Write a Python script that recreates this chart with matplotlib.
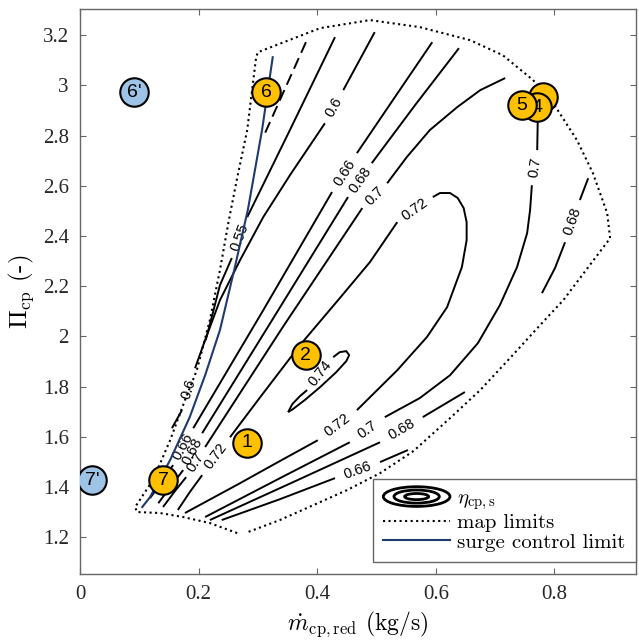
import math
import matplotlib
matplotlib.use("Agg")
import matplotlib.pyplot as plt
from matplotlib.legend_handler import HandlerBase
from matplotlib.patches import Ellipse
from matplotlib.lines import Line2D

plt.rcParams['mathtext.fontset'] = 'cm'

# ---------------- data ----------------
# map limits (dotted polygon, with a small gap at the bottom)
map_x = [0.265, 0.219, 0.174, 0.135, 0.096, 0.093, 0.123, 0.152, 0.177, 0.197,
         0.219, 0.236, 0.251, 0.266, 0.282, 0.297, 0.300, 0.405, 0.489, 0.573,
         0.658, 0.713, 0.764, 0.798, 0.838, 0.865, 0.889, 0.894, 0.815, 0.776,
         0.725, 0.675, 0.624, 0.568, 0.560, 0.506, 0.450, 0.337, 0.283]
map_y = [1.216, 1.256, 1.280, 1.296, 1.300, 1.320, 1.427, 1.586, 1.746, 1.865,
         2.065, 2.264, 2.463, 2.642, 2.822, 3.112, 3.132, 3.228, 3.260, 3.232,
         3.180, 3.120, 3.021, 2.929, 2.782, 2.650, 2.491, 2.391, 2.144, 2.045,
         1.913, 1.786, 1.674, 1.555, 1.539, 1.455, 1.387, 1.268, 1.220]

# surge control limit
surge_x = [0.325, 0.307, 0.283, 0.260, 0.236, 0.211, 0.185, 0.152, 0.118, 0.105]
surge_y = [3.112, 2.822, 2.503, 2.264, 2.025, 1.845, 1.678, 1.507, 1.359, 1.320]

# dashed fragment near the surge line (top)
frag_x = [0.381, 0.309]
frag_y = [3.172, 2.794]

# efficiency iso-lines: each level -> branches -> pieces (gaps = labels)
eta_055 = [[[(0.430, 3.192), (0.354, 2.822), (0.282, 2.475)],
            [(0.256, 2.312), (0.236, 2.204), (0.223, 2.084), (0.212, 1.985)]]]
eta_060 = [[[(0.497, 3.212), (0.444, 2.981)],
            [(0.413, 2.849), (0.354, 2.642), (0.309, 2.475), (0.270, 2.304),
             (0.236, 2.144), (0.211, 1.985), (0.194, 1.873)],
            [(0.172, 1.706), (0.155, 1.634)]]]
eta_066 = [[[(0.118, 1.355), (0.135, 1.411), (0.157, 1.487)],
            [(0.191, 1.634), (0.309, 2.104), (0.425, 2.575)],
            [(0.467, 2.730), (0.531, 2.953), (0.594, 3.172)]],
           [[(0.553, 1.547), (0.506, 1.499)],
            [(0.430, 1.435), (0.337, 1.351), (0.239, 1.268)]]]
eta_068 = [[[(0.132, 1.335), (0.152, 1.399), (0.174, 1.467)],
            [(0.206, 1.614), (0.329, 2.084), (0.452, 2.555)],
            [(0.492, 2.690), (0.565, 2.921), (0.639, 3.148)]],
           [[(0.857, 2.630), (0.843, 2.543)],
            [(0.818, 2.375), (0.801, 2.272), (0.779, 2.172)]],
           [[(0.649, 1.778), (0.578, 1.678)],
            [(0.506, 1.578), (0.363, 1.423), (0.219, 1.268)]]]
eta_070 = [[[(0.140, 1.320), (0.160, 1.383), (0.179, 1.439)],
            [(0.211, 1.559), (0.342, 2.037), (0.476, 2.511)],
            [(0.518, 2.610), (0.551, 2.714), (0.590, 2.822), (0.636, 2.913),
             (0.675, 2.981), (0.717, 3.029)]],
           [[(0.772, 2.869), (0.771, 2.742)],
            [(0.762, 2.602), (0.759, 2.503), (0.754, 2.411), (0.737, 2.276),
             (0.708, 2.124), (0.671, 1.973), (0.624, 1.845), (0.573, 1.754),
             (0.514, 1.678)],
            [(0.455, 1.578), (0.334, 1.431), (0.211, 1.280)]]]
eta_072 = [[[(0.165, 1.308), (0.185, 1.379), (0.206, 1.447)],
            [(0.253, 1.598), (0.304, 1.758), (0.371, 1.965), (0.438, 2.152),
             (0.489, 2.296), (0.535, 2.455)],
            [(0.595, 2.555), (0.607, 2.571), (0.624, 2.571), (0.637, 2.551),
             (0.647, 2.511), (0.652, 2.455), (0.652, 2.383), (0.644, 2.276),
             (0.619, 2.116), (0.585, 1.997), (0.535, 1.865), (0.467, 1.706)],
            [(0.401, 1.586), (0.337, 1.503), (0.270, 1.415), (0.177, 1.296)]]]
eta_074 = [[[(0.351, 1.698), (0.358, 1.730), (0.371, 1.762), (0.383, 1.786)],
            [(0.427, 1.917), (0.438, 1.937), (0.449, 1.941), (0.454, 1.925),
             (0.449, 1.901), (0.432, 1.857), (0.405, 1.798), (0.379, 1.746),
             (0.359, 1.710), (0.351, 1.698)]]]

eta_levels = ['0.55', '0.6', '0.66', '0.68', '0.7', '0.72', '0.74']
eta_lines = [eta_055, eta_060, eta_066, eta_068, eta_070, eta_072, eta_074]

# operating points (the rearmost circle near 4/5 shows no number)
pt_labels = ["6'", "6", "7'", "7", "1", "2", "", "4", "5"]
pt_x = [0.091, 0.314, 0.020, 0.140, 0.282, 0.381, 0.781, 0.771, 0.745]
pt_y = [2.973, 2.973, 1.427, 1.427, 1.575, 1.925, 2.953, 2.913, 2.921]
pt_kind = ['off', 'on', 'off', 'on', 'on', 'on', 'on', 'on', 'on']

x_ticks = [0, 0.2, 0.4, 0.6, 0.8]
x_ticklabels = ['0', '0.2', '0.4', '0.6', '0.8']
y_ticks = [1.2, 1.4, 1.6, 1.8, 2.0, 2.2, 2.4, 2.6, 2.8, 3.0, 3.2]
y_ticklabels = ['1.2', '1.4', '1.6', '1.8', '2', '2.2', '2.4', '2.6', '2.8', '3', '3.2']

# ---------------- styles ----------------
ORANGE = '#FFC000'
LIGHTBLUE = '#9DC3E6'
NAVY = '#1F3A6E'
GRAY = '#666666'

fig = plt.figure(figsize=(6.39, 6.42), dpi=100)
ax = fig.add_axes([0.1252, 0.1059, 0.870, 0.880])
ax.set_xlim(0, 0.9375)
ax.set_ylim(1.053, 3.304)

# contour lines with inline labels
for lev, branches in zip(eta_levels, eta_lines):
    for branch in branches:
        for piece in branch:
            xs = [p[0] for p in piece]
            ys = [p[1] for p in piece]
            ax.plot(xs, ys, color='black', lw=1.4, solid_capstyle='butt',
                    solid_joinstyle='round', zorder=2)
        for a, b in zip(branch[:-1], branch[1:]):
            p0, p1 = a[-1], b[0]
            d0 = ax.transData.transform(p0)
            d1 = ax.transData.transform(p1)
            ang = math.degrees(math.atan2(d1[1] - d0[1], d1[0] - d0[0]))
            if ang > 90:
                ang -= 180
            elif ang < -90:
                ang += 180
            ax.text((p0[0] + p1[0]) / 2, (p0[1] + p1[1]) / 2, lev,
                    rotation=ang, rotation_mode='anchor', ha='center',
                    va='center', fontsize=10.5, family='Liberation Sans',
                    zorder=3)

ax.plot(frag_x, frag_y, color='black', lw=1.4, ls=(0, (6, 3)), zorder=2)

# map limits
ax.plot(map_x, map_y, color='black', lw=1.5, ls=':', zorder=2)
# surge control limit
ax.plot(surge_x, surge_y, color=NAVY, lw=1.5, zorder=3)

# operating points
for i, (lab, x, y, kind) in enumerate(zip(pt_labels, pt_x, pt_y, pt_kind)):
    fc = ORANGE if kind == 'on' else LIGHTBLUE
    ax.scatter([x], [y], s=420, facecolor=fc, edgecolor='black',
               linewidth=1.5, zorder=10 + 2 * i)
    if lab:
        ax.text(x, y, lab, ha='center', va='center', fontsize=14,
                family='Liberation Sans', zorder=11 + 2 * i)

# axes styling
ax.set_xticks(x_ticks)
ax.set_xticklabels(x_ticklabels)
ax.set_yticks(y_ticks)
ax.set_yticklabels(y_ticklabels)
ax.tick_params(direction='in', top=True, right=True, length=4.5, width=0.8,
               color=GRAY, labelsize=15, pad=8)
for lab in ax.get_xticklabels() + ax.get_yticklabels():
    lab.set_family('Liberation Serif')
    lab.set_color('#262626')
for sp in ax.spines.values():
    sp.set_color(GRAY)
    sp.set_linewidth(1.0)

ax.set_xlabel(r'$\dot{m}_{\mathrm{cp,red}}$ (kg/s)', family='cmr10',
              fontsize=17, labelpad=4)
ax.set_ylabel(r'$\Pi_{\mathrm{cp}}$ (-)', family='cmr10', fontsize=18,
              labelpad=5)


# legend with contour icon
class ContourProxy:
    pass


class ContourHandler(HandlerBase):
    def create_artists(self, legend, orig_handle, xdescent, ydescent,
                       width, height, fontsize, trans):
        cx = width / 2 - xdescent
        cy = height / 2 - ydescent
        arts = []
        for fw, fh in [(1.0, 1.35), (0.68, 0.9), (0.36, 0.42)]:
            e = Ellipse((cx, cy), width * fw, height * fh, fill=False,
                        edgecolor='black', lw=2.0, transform=trans)
            arts.append(e)
        return arts


handles = [ContourProxy(),
           Line2D([], [], color='black', lw=1.5, ls=':'),
           Line2D([], [], color=NAVY, lw=1.5)]
labels = [r'$\eta_{\mathrm{cp,s}}$', 'map limits', 'surge control limit']
leg = ax.legend(handles, labels, handler_map={ContourProxy: ContourHandler()},
                loc='lower right', bbox_to_anchor=(1.0, 0.021),
                borderaxespad=0.0, prop={'family': 'cmr10', 'size': 15},
                handlelength=3.2, handletextpad=0.35, labelspacing=0.05,
                borderpad=0.5, fancybox=False, framealpha=1.0)
leg.get_frame().set_edgecolor(GRAY)
leg.get_frame().set_linewidth(1.0)
leg.set_zorder(30)

fig.savefig('out.png', dpi=100)
